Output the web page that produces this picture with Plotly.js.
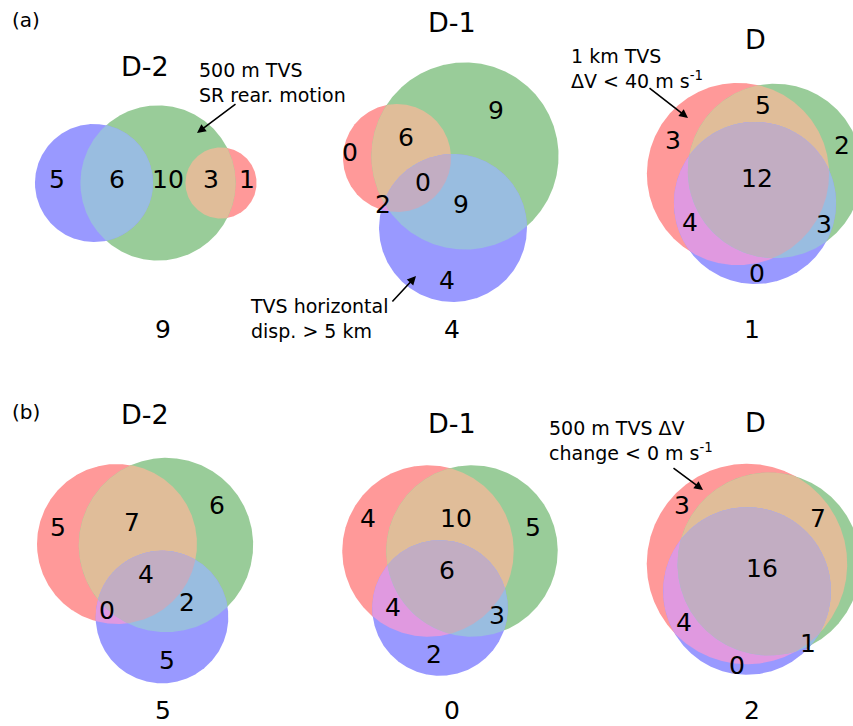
<!DOCTYPE html>
<html><head><meta charset="utf-8">
<script src="https://cdn.plot.ly/plotly-3.0.1.min.js"></script>
<style>html,body{margin:0;padding:0;background:#fff}</style>
</head><body><div id="chart" style="width:853px;height:726px"></div>
<script>
// ---------------- DATA ----------------
const panelTitles = ['D-2', 'D-1', 'D'];
const rowLabels = ['(a)', '(b)'];
// region counts, order: [red only, green only, red&green, blue only, red&blue, green&blue, all three]
const aD2 = [1, 10, 3, 5, 0, 6, 0];
const aD1 = [0, 9, 6, 4, 2, 9, 0];
const aD  = [3, 2, 5, 0, 4, 3, 12];
const bD2 = [5, 6, 7, 5, 0, 2, 4];
const bD1 = [4, 5, 10, 2, 4, 3, 6];
const bD  = [3, 1, 7, 0, 4, 1, 16];
// counts outside all three sets
const outsideA = [9, 4, 1];
const outsideB = [5, 0, 2];
const noteTexts = [
  '500 m TVS<br>SR rear. motion',
  'TVS horizontal<br>disp. > 5 km',
  '1 km TVS<br>ΔV < 40 m s<sup>-1</sup>',
  '500 m TVS ΔV<br>change < 0 m s<sup>-1</sup>'
];

// ---------------- LAYOUT GEOMETRY ----------------
const regionColors = ['rgb(255,153,153)', 'rgb(153,204,153)', 'rgb(224,189,153)',
  'rgb(153,153,255)', 'rgb(224,153,224)', 'rgb(153,189,224)', 'rgb(194,173,194)'];
const panels = [
  {counts: aD2, k: 17.8, c: [[221,183],[158,183],[94,183]], title: [145,66], bottom: [163,332], outside: outsideA[0],
   lab: [[247,182],[168,182],[211,182],[57,182],null,[117,182],null]},
  {counts: aD1, k: 19.1, c: [[397,158],[465,156],[453,228]], title: [452,22], bottom: [452,332], outside: outsideA[1],
   lab: [[350,155],[496,113],[406,140],[447,283],[383,207],[461,207],[423,185]]},
  {counts: aD, k: 18.6, c: [[738,174],[775,171],[755,203]], title: [755,39], bottom: [752,332], outside: outsideA[2],
   lab: [[673,143],[842,148],[763,108],[757,276],[690,225],[824,227],[757,181]]},
  {counts: bD2, k: 20.0, c: [[117,544],[166,545],[162,617]], title: [145,414], bottom: [163,713], outside: outsideB[0],
   lab: [[58,530],[217,508],[132,525],[167,663],[107,613],[187,605],[146,577]]},
  {counts: bD1, k: 17.5, c: [[428,551],[472,551],[440,608]], title: [452,423], bottom: [452,713], outside: outsideB[1],
   lab: [[368,521],[533,530],[456,521],[434,657],[393,610],[497,618],[447,573]]},
  {counts: bD, k: 18.3, c: [[747,564],[769,564],[747,591]], title: [755,422], bottom: [752,713], outside: outsideB[2],
   lab: [[682,508],[854,559],[818,521],[737,668],[684,625],[808,646],[762,571]]}
];
panels.forEach((p, i) => p.name = panelTitles[i % 3]);

function setSizes(r) {
  return [r[0]+r[2]+r[4]+r[6], r[1]+r[2]+r[5]+r[6], r[3]+r[4]+r[5]+r[6]];
}
function intersection(circles) {
  const pts = [], N = 720;
  circles.forEach((c, i) => {
    for (let j = 0; j < N; j++) {
      const t = 2 * Math.PI * j / N;
      const x = c.cx + c.r * Math.cos(t), y = c.cy + c.r * Math.sin(t);
      if (circles.every((d, q) => q === i || (x-d.cx)*(x-d.cx) + (y-d.cy)*(y-d.cy) <= d.r*d.r + 1e-6)) pts.push([x, y]);
    }
  });
  if (pts.length < 3) return null;
  let mx = 0, my = 0;
  pts.forEach(p => { mx += p[0]; my += p[1]; });
  mx /= pts.length; my /= pts.length;
  pts.sort((a, b) => Math.atan2(a[1]-my, a[0]-mx) - Math.atan2(b[1]-my, b[0]-mx));
  return pts;
}

const traces = [];
const font = 'DejaVu Sans, Bitstream Vera Sans, sans-serif';
// painter's order: red, green, red&green, blue, red&blue, green&blue, all
const layers = [[0],[1],[0,1],[2],[0,2],[1,2],[0,1,2]];
panels.forEach(p => {
  const sizes = setSizes(p.counts);
  const circ = p.c.map((cc, i) => ({cx: cc[0], cy: cc[1], r: p.k * Math.sqrt(sizes[i])}));
  layers.forEach((ids, li) => {
    const poly = intersection(ids.map(i => circ[i]));
    if (!poly) return;
    traces.push({type: 'scatter', mode: 'lines', x: poly.map(q => q[0]).concat([poly[0][0]]),
      y: poly.map(q => q[1]).concat([poly[0][1]]), fill: 'toself',
      fillcolor: regionColors[li], line: {width: 0, color: 'rgba(0,0,0,0)'},
      hoverinfo: 'skip', showlegend: false});
  });
});
// region count labels
const lx = [], ly = [], lt = [];
panels.forEach(p => {
  p.lab.forEach((pos, i) => { if (pos) { lx.push(pos[0]); ly.push(pos[1]); lt.push(String(p.counts[i])); } });
  lx.push(p.bottom[0]); ly.push(p.bottom[1]); lt.push(String(p.outside));
});
traces.push({type: 'scatter', mode: 'text', x: lx, y: ly, text: lt, textposition: 'middle center',
  textfont: {family: font, size: 25, color: '#000'}, hoverinfo: 'skip', showlegend: false, cliponaxis: false});

const annotations = [];
panels.forEach(p => annotations.push({x: p.title[0], y: p.title[1], xref: 'x', yref: 'y', text: p.name,
  showarrow: false, font: {family: font, size: 27, color: '#000'}, xanchor: 'center', yanchor: 'middle'}));
annotations.push({x: 26, y: 20, xref: 'x', yref: 'y', text: rowLabels[0], showarrow: false,
  font: {family: font, size: 20, color: '#000'}, xanchor: 'center', yanchor: 'middle'});
annotations.push({x: 26, y: 412, xref: 'x', yref: 'y', text: rowLabels[1], showarrow: false,
  font: {family: font, size: 20, color: '#000'}, xanchor: 'center', yanchor: 'middle'});
const notePos = [[197, 82], [248, 318], [569, 68], [547, 440]];
const arrows = [[[237,103],[197,133]], [[391,303],[416,276]], [[648,87],[688,118]], [[672,467],[703,490]]];
noteTexts.forEach((t, i) => {
  annotations.push({x: notePos[i][0], y: notePos[i][1], xref: 'x', yref: 'y', text: t, showarrow: false,
    align: 'left', xanchor: 'left', yanchor: 'middle', font: {family: font, size: 19, color: '#000'}});
  annotations.push({x: arrows[i][1][0], y: arrows[i][1][1], ax: arrows[i][0][0], ay: arrows[i][0][1],
    xref: 'x', yref: 'y', axref: 'x', ayref: 'y', text: '', showarrow: true,
    arrowhead: 2, arrowsize: 1.1, arrowwidth: 1.6, arrowcolor: '#000'});
});

const layout = {
  width: 853, height: 726, margin: {l: 0, r: 0, t: 0, b: 0},
  paper_bgcolor: '#fff', plot_bgcolor: '#fff', showlegend: false,
  xaxis: {range: [0, 853], visible: false, fixedrange: true},
  yaxis: {range: [726, 0], visible: false, fixedrange: true},
  annotations: annotations
};
Plotly.newPlot('chart', traces, layout, {staticPlot: true, displayModeBar: false});
</script></body></html>
